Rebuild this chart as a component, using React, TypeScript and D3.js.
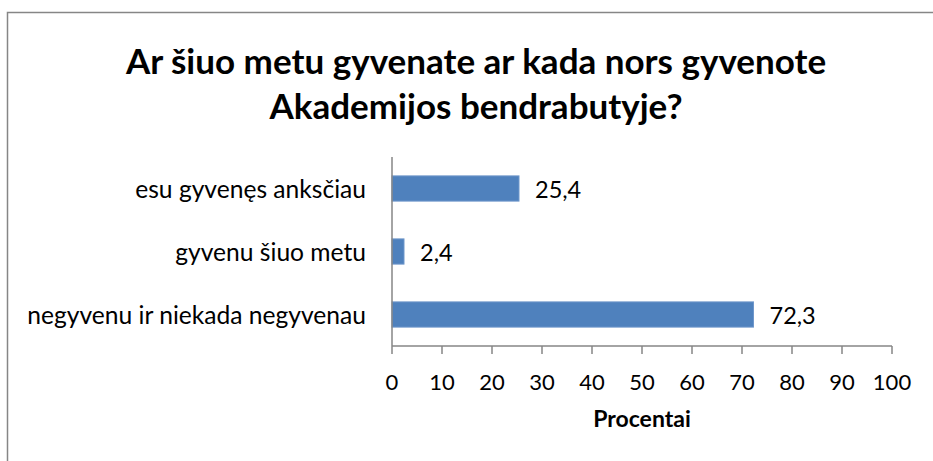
import React from "react";
import * as d3 from "d3";

const titleLines = ["Ar šiuo metu gyvenate ar kada nors gyvenote", "Akademijos bendrabutyje?"];
const categories = ["esu gyvenęs anksčiau", "gyvenu šiuo metu", "negyvenu ir niekada negyvenau"];
const values = [25.4, 2.4, 72.3];
const valueLabels = ["25,4", "2,4", "72,3"];
const xTicks = [0, 10, 20, 30, 40, 50, 60, 70, 80, 90, 100];
const xAxisTitle = "Procentai";

const W = 933;
const H = 461;
const FONT = "Lato, Carlito, Calibri, 'Open Sans', sans-serif";
const BAR = "#4F81BD";
const AXIS = "#868686";

export default function App() {
  const x = d3.scaleLinear().domain([0, 100]).range([392, 892]);
  const y = d3.scaleBand<string>().domain(categories).range([157, 346]).paddingInner(0.6).paddingOuter(0.3);
  const y0 = 346;
  const yTop = 157;

  return (
    <svg width={W} height={H} style={{ position: "absolute", left: 0, top: 0, background: "#fff" }}>
      <rect x={7.5} y={12.5} width={1000} height={1000} fill="#fff" stroke={AXIS} strokeWidth={1.5} />
      {titleLines.map((t, i) => (
        <text key={i} x={476} y={60 + i * 45} textAnchor="middle" dominantBaseline="central"
          fontFamily={FONT} fontWeight="bold" fontSize={35} fill="#000">{t}</text>
      ))}
      {categories.map((c, i) => {
        const by = y(c)!;
        const bh = y.bandwidth();
        return (
          <g key={c}>
            <rect x={x(0)} y={by} width={x(values[i]) - x(0)} height={bh} fill={BAR} stroke="#6f97cb" strokeWidth={1} />
            <text x={366} y={by + bh / 2} textAnchor="end" dominantBaseline="central"
              fontFamily={FONT} fontSize={24.6} fill="#000">{c}</text>
            <text x={x(values[i]) + 16} y={by + bh / 2} textAnchor="start" dominantBaseline="central"
              fontFamily={FONT} fontSize={23.5} fill="#000">{valueLabels[i]}</text>
          </g>
        );
      })}
      <line x1={x(0)} x2={x(0)} y1={yTop} y2={y0} stroke={AXIS} strokeWidth={1.5} />
      <line x1={x(0)} x2={x(100)} y1={y0} y2={y0} stroke={AXIS} strokeWidth={1.5} />
      {xTicks.map((t) => (
        <g key={t}>
          <line x1={x(t)} x2={x(t)} y1={y0} y2={y0 + 8} stroke={AXIS} strokeWidth={1.5} />
          <text x={x(t)} y={381} textAnchor="middle" dominantBaseline="central"
            fontFamily={FONT} fontSize={22} fill="#000">{t}</text>
        </g>
      ))}
      <text x={(x(0) + x(100)) / 2} y={418} textAnchor="middle" dominantBaseline="central"
        fontFamily={FONT} fontWeight="bold" fontSize={23} fill="#000">{xAxisTitle}</text>
    </svg>
  );
}
